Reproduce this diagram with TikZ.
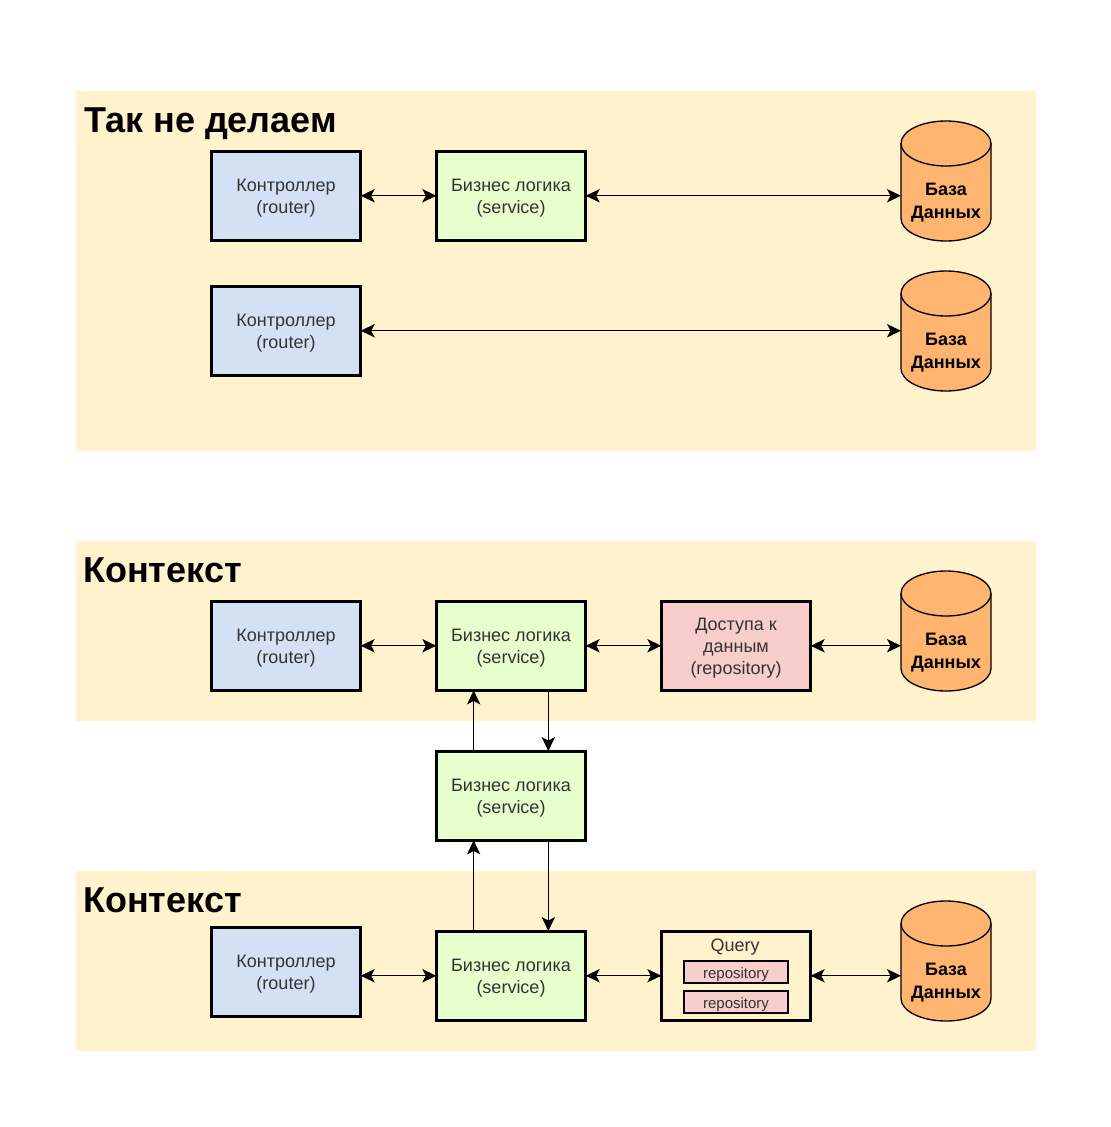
\documentclass[tikz,border=0pt]{standalone}
\usepackage{fontspec}
\setmainfont{Liberation Sans}
\usetikzlibrary{arrows.meta,calc}
\definecolor{bandc}{HTML}{FFF2CC}
\definecolor{ctrlc}{HTML}{D4E1F5}
\definecolor{svcc}{HTML}{E6FFCC}
\definecolor{repc}{HTML}{F8CECC}
\definecolor{dbc}{HTML}{FFB570}
\definecolor{txtc}{HTML}{333333}
\newcommand{\lift}{\rule{0pt}{13pt}}
\tikzset{
  band/.style={fill=bandc,draw=none,inner sep=0pt,outer sep=0pt,minimum width=720pt},
  title/.style={anchor=west,inner sep=0pt,font=\fontsize{27}{32}\selectfont\bfseries},
  box/.style={draw=black,line width=2.25pt,minimum width=112pt,minimum height=67pt,inner sep=0pt,outer sep=0pt,align=center,text=txtc,font=\fontsize{13.5}{16.5}\selectfont},
  ctrl/.style={box,fill=ctrlc},
  svc/.style={box,fill=svcc},
  rep/.style={box,fill=repc},
  qry/.style={box,fill=none},
  small/.style={draw=black,line width=.9pt,fill=repc,minimum width=78pt,minimum height=16.5pt,inner sep=0pt,outer sep=0pt,text=txtc,font=\fontsize{11.25}{12}\selectfont,execute at begin node={\rule{0pt}{11.5pt}}},
  dbshape/.style={minimum width=67.5pt,minimum height=90pt,inner sep=0pt,outer sep=0pt},
  dblabel/.style={inner sep=0pt,align=center,font=\fontsize{13.5}{17.25}\selectfont\bfseries},
  link/.style={line width=.95pt,{Stealth[length=10.5pt,width=10pt,inset=2.6pt]}-{Stealth[length=10.5pt,width=10pt,inset=2.6pt]}},
  one/.style={line width=.95pt,-{Stealth[length=10.5pt,width=10pt,inset=2.6pt]}}
}
\newcommand{\dbnode}[3]{%
  \fill[dbc] (#2-45,#3-37.5) arc[x radius=45,y radius=-22.5,start angle=180,end angle=0] -- (#2+45,#3+37.5) arc[x radius=45,y radius=-22.5,start angle=0,end angle=-180] -- cycle;
  \draw[line width=1pt] (#2-45,#3-37.5) arc[x radius=45,y radius=22.5,start angle=180,end angle=-180];
  \draw[line width=1pt] (#2-45,#3-37.5) -- (#2-45,#3+37.5) arc[x radius=45,y radius=-22.5,start angle=-180,end angle=0] -- (#2+45,#3-37.5);
  \node[dbshape] (#1) at (#2,#3) {};
  \node[dblabel] (#1t) at (#2,#3+21.5) {База\\Данных};
}
\begin{document}
\begin{tikzpicture}[x=.75pt,y=-.75pt]
\useasboundingbox (0,0) rectangle (1110,1127);
\fill[white] (0,0) rectangle (1110,1127);
\node[band,minimum height=270pt,anchor=north west] (b1) at (76,91) {};
\node[band,minimum height=135pt,anchor=north west] (b2) at (76,541) {};
\node[band,minimum height=135pt,anchor=north west] (b3) at (76,871) {};
\node[title] (t1) at (84,124) {Так не делаем};
\node[title] (t2) at (83,570) {Контекст};
\node[title] (t3) at (83,900) {Контекст};

\node[ctrl] (c1) at (286,195.75) {\lift Контроллер\\(router)};
\node[svc] (s1) at (511,195.75) {\lift Бизнес логика\\(service)};
\dbnode{d1}{946}{181}
\node[ctrl] (c2) at (286,330.75) {\lift Контроллер\\(router)};
\dbnode{d2}{946}{331}

\node[ctrl] (c3) at (286,645.75) {\lift Контроллер\\(router)};
\node[svc] (s3) at (511,645.75) {\lift Бизнес логика\\(service)};
\node[rep] (r3) at (736,645.75) {\lift Доступа к\\данным\\(repository)};
\dbnode{d3}{946}{631}

\node[svc] (m) at (511,795.75) {\lift Бизнес логика\\(service)};

\node[ctrl] (c4) at (286,971.75) {\lift Контроллер\\(router)};
\node[svc] (s4) at (511,975.75) {\lift Бизнес логика\\(service)};
\node[qry] (q) at (736,975.75) {};
\node[text=txtc,inner sep=0pt,font=\fontsize{13.5}{14}\selectfont] (ql) at (735,947.5) {Query};
\node[small] (q1) at (736,972) {repository};
\node[small] (q2) at (736,1002) {repository};
\dbnode{d4}{946}{961}

\coordinate (d1w) at (d1.west |- s1);
\coordinate (d2w) at (d2.west |- c2);
\coordinate (d3w) at (d3.west |- r3);
\coordinate (d4w) at (d4.west |- q);
\draw[link] (c1) -- (s1);
\draw[link] (s1) -- (d1w);
\draw[link] (c2) -- (d2w);
\draw[link] (c3) -- (s3);
\draw[link] (s3) -- (r3);
\draw[link] (r3) -- (d3w);
\draw[link] (c4.east |- s4) -- (s4);
\draw[link] (s4) -- (q);
\draw[link] (q) -- (d4w);
\draw[one] ($(m.north west)!.25!(m.north east)$) -- ($(s3.south west)!.25!(s3.south east)$);
\draw[one] ($(s3.south west)!.75!(s3.south east)$) -- ($(m.north west)!.75!(m.north east)$);
\draw[one] ($(s4.north west)!.25!(s4.north east)$) -- ($(m.south west)!.25!(m.south east)$);
\draw[one] ($(m.south west)!.75!(m.south east)$) -- ($(s4.north west)!.75!(s4.north east)$);
\end{tikzpicture}
\end{document}
